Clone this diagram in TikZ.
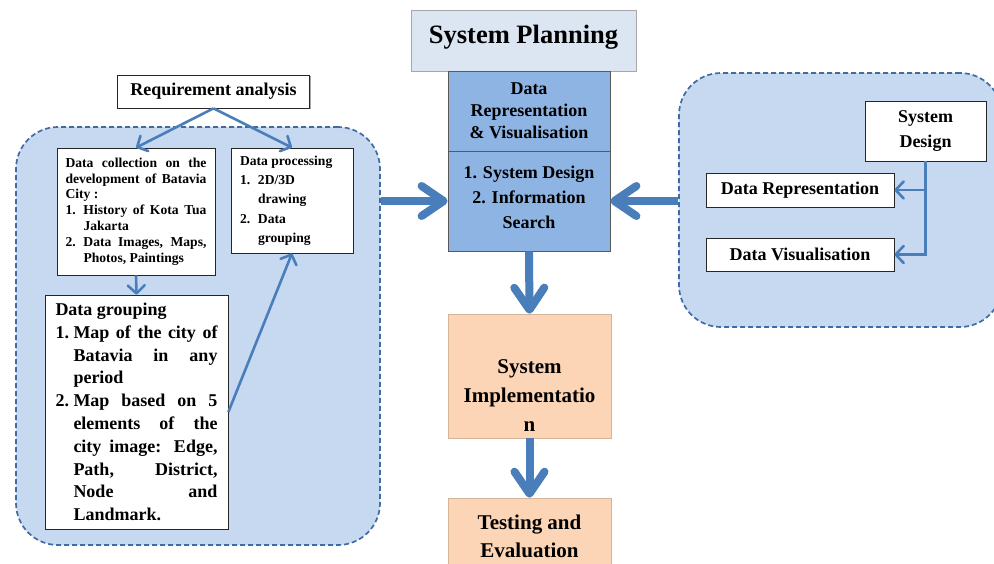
\documentclass[tikz,border=0pt]{standalone}
\usepackage{fontspec}
\setmainfont{Liberation Serif}
\usetikzlibrary{arrows.meta,shadows}

\definecolor{panelfill}{HTML}{C6D9F1}
\definecolor{panelline}{HTML}{3E6CA3}
\definecolor{flowblue}{HTML}{4A7EBB}
\definecolor{planfill}{HTML}{DCE6F2}
\definecolor{stagefill}{HTML}{8EB4E3}
\definecolor{implfill}{HTML}{FBD5B5}

% numbered line with hanging indent
\newcommand\enumline[2]{\par\hangindent=#1\hangafter=1\noindent\makebox[#1][l]{#2}}

\tikzset{
  panel/.style={draw=panelline, fill=panelfill, line width=1.7pt,
    dash pattern=on 5pt off 3pt, rounded corners=42pt, inner sep=0pt},
  whitebox/.style={draw=black!85, fill=white, line width=0.7pt, inner sep=0pt,
    drop shadow={shadow xshift=1.2pt, shadow yshift=-1.2pt, fill=black, opacity=0.35}},
  planbox/.style={draw=black!35, fill=planfill, line width=0.8pt, inner sep=0pt},
  stagebox/.style={draw=black!65, fill=stagefill, line width=0.8pt, inner sep=0pt},
  implbox/.style={draw=implfill!85!black, fill=implfill, line width=0.6pt, inner sep=0pt,
    drop shadow={shadow xshift=1.2pt, shadow yshift=-1.2pt, fill=black, opacity=0.3}},
  thinarrow/.style={draw=flowblue, line width=2.6pt,
    -{Straight Barb[length=8pt, width=17pt, round]}},
  bigarrow/.style={draw=flowblue, line width=8pt,
    -{Straight Barb[length=22pt, width=30pt, round]}}
}

\begin{document}
\tolerance=10000
\hbadness=10000
\hyphenpenalty=10000
\exhyphenpenalty=10000
\begin{tikzpicture}[x=1pt, y=-1pt]
\useasboundingbox (0,0) rectangle (994,563);

% dashed panels
\node[panel, minimum width=364pt, minimum height=418pt] (lpanel) at (198,336) {};
\node[panel, minimum width=323pt, minimum height=254pt] (rpanel) at (840.5,200) {};

% left panel: requirement analysis and data preparation
\node[whitebox, minimum width=192pt, minimum height=33pt,
      font=\bfseries\fontsize{18}{22}\selectfont] (req) at (213.5,91.5) {Requirement analysis};

\node[whitebox, minimum width=158pt, minimum height=127pt, text width=141pt, align=justify,
      font=\bfseries\fontsize{13.6}{15.8}\selectfont]
  (coll) at (136,211.5) {\noindent Data collection on the\linebreak development of Batavia\linebreak City :
  \enumline{18pt}{1.}History of Kota Tua\linebreak Jakarta
  \enumline{18pt}{2.}Data Images, Maps,\linebreak Photos, Paintings\par};

\node[whitebox, minimum width=122pt, minimum height=105pt, text width=104pt, align=justify,
      font=\bfseries\fontsize{13.6}{19.3}\selectfont]
  (proc) at (292,200.5) {\noindent Data processing\par
  \enumline{18pt}{1.}2D/3D\hfill\null\linebreak drawing\par
  \enumline{18pt}{2.}Data\hfill\null\linebreak grouping\par};

\node[whitebox, minimum width=183pt, minimum height=234pt, text width=162pt, align=justify,
      font=\bfseries\fontsize{18}{22.8}\selectfont]
  (grp) at (136.5,412) {\noindent Data grouping
  \enumline{18pt}{1.}Map of the city of\linebreak Batavia in any\linebreak period
  \enumline{18pt}{2.}Map based on 5\linebreak elements of the\linebreak city image: Edge,\linebreak
  Path, District,\linebreak Node and\linebreak Landmark.\par};

\draw[thinarrow] (req.south) -- (coll.north);
\draw[thinarrow] (req.south) -- (proc.north);
\draw[thinarrow] (coll.south) -- (grp.north);
\draw[thinarrow] (grp.east) -- (proc.south);

% central column
\node[planbox, minimum width=225pt, minimum height=61pt] (plan) at (523.5,40.5) {};
\node[font=\bfseries\fontsize{26.5}{30}\selectfont] (plantxt) at (523.5,37) {System Planning};

\node[stagebox, minimum width=162pt, minimum height=80pt, align=center,
      font=\bfseries\fontsize{18}{22}\selectfont] (rep) at (529,111) {Data\\Representation\\\& Visualisation};
\node[stagebox, minimum width=162pt, minimum height=100pt] (search) at (529,201) {};
\node[align=center, font=\bfseries\fontsize{18}{25}\selectfont] (searchtxt) at (529,197)
  {1. System Design\\2. Information\\Search};

\node[implbox, minimum width=163pt, minimum height=124pt] (impl) at (529.5,376) {};
\node[align=center, font=\bfseries\fontsize{21}{29}\selectfont] (impltxt) at (529.5,396)
  {System\\Implementatio\\n};

\node[implbox, minimum width=163pt, minimum height=78pt] (test) at (529.5,537) {};
\node[align=center, font=\bfseries\fontsize{21}{28}\selectfont] (testtxt) at (529.5,536)
  {Testing and\\Evaluation};

\draw[bigarrow] (lpanel.east |- search.west) -- (search.west);
\draw[bigarrow] (rpanel.west |- search.east) -- (search.east);
\draw[bigarrow] (search.south) -- (impl.north);
\draw[bigarrow] (impl.south) -- (test.north);

% right panel: system design
\node[whitebox, minimum width=121pt, minimum height=60pt, align=center,
      font=\bfseries\fontsize{18}{25}\selectfont] (sd) at (925.5,131) {System\\Design};
\node[whitebox, minimum width=188pt, minimum height=34pt,
      font=\bfseries\fontsize{18}{22}\selectfont] (drep) at (800,190) {Data Representation};
\node[whitebox, minimum width=188pt, minimum height=33pt,
      font=\bfseries\fontsize{18}{22}\selectfont] (dvis) at (800,254.5) {Data Visualisation};

\draw[thinarrow] (sd.south) |- (dvis.east);
\draw[thinarrow] (sd.south |- drep.east) -- (drep.east);
\end{tikzpicture}
\end{document}
